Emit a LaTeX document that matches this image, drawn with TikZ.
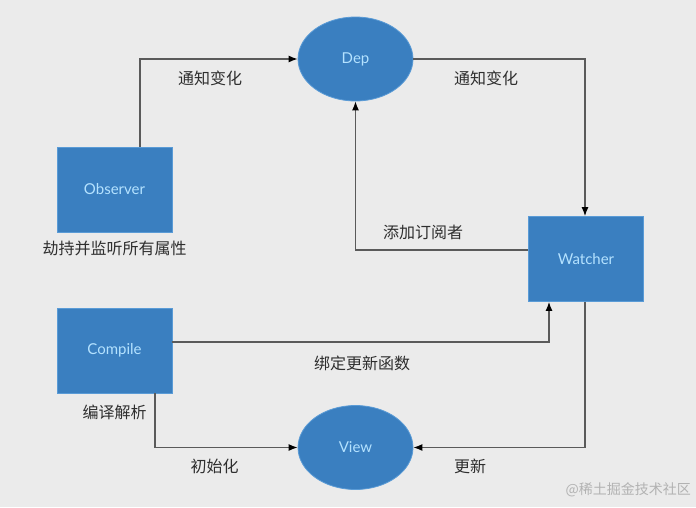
\documentclass[tikz,border=0pt]{standalone}
\usepackage{fontspec}
\setmainfont{Lato}
\newfontfamily\cjk{Noto Sans CJK SC}
\usetikzlibrary{arrows.meta}
\definecolor{bgc}{HTML}{EBEBEB}
\definecolor{boxfill}{HTML}{3A7FC0}
\definecolor{boxdraw}{HTML}{5A9BD6}
\definecolor{boxtext}{HTML}{B4E2FF}
\definecolor{linec}{HTML}{5A5A5A}
\definecolor{labc}{HTML}{2E2E2E}
\definecolor{wmc}{HTML}{B2B2B2}
\tikzset{
  blockbox/.style={rectangle, fill=boxfill, draw=boxdraw, line width=0.8pt, minimum width=115pt, minimum height=85pt, inner sep=0pt, text=boxtext, font=\fontsize{15}{18}\selectfont},
  blockell/.style={ellipse, fill=boxfill, draw=boxdraw, line width=0.8pt, minimum width=115pt, minimum height=84pt, inner sep=0pt, text=boxtext, font=\fontsize{15}{18}\selectfont},
  conn/.style={draw=linec, line width=1.2pt, -{Latex[length=9pt,width=7pt,color=black]}},
  lab/.style={text=labc, font=\cjk\fontsize{16}{19}\selectfont, inner sep=0pt},
}
\usetikzlibrary{shapes.geometric}
\begin{document}
\begin{tikzpicture}[x=1pt,y=-1pt]
\fill[bgc] (0,0) rectangle (696,507);
\useasboundingbox (0,0) rectangle (696,507);
\node[blockell] (dep) at (355.5,59) {Dep};
\node[blockbox] (obs) at (114.5,189.5) {Observer};
\node[blockbox] (wat) at (586,259) {Watcher};
\node[blockbox] (com) at (114.5,350.5) {Compile};
\node[blockell] (view) at (355.5,447.5) {View};
\coordinate (c1) at (140,59);
\coordinate (c2) at (585,59);
\coordinate (c3) at (355.5,250);
\coordinate (c4) at (549,342);
\coordinate (c5) at (155,447.5);
\coordinate (c6) at (585,447.5);
\draw[conn] (obs.north -| c1) -- (c1) -- (dep.west);
\draw[conn] (dep.east) -- (c2) -- (wat.north -| c2);
\draw[conn] (wat.west |- c3) -- (c3) -- (dep.south);
\draw[conn] (com.east |- c4) -- (c4) -- (wat.south -| c4);
\draw[conn] (com.south -| c5) -- (c5) -- (view.west);
\draw[conn] (wat.south -| c6) -- (c6) -- (view.east);
\node[lab] (l1) at (210,78) {通知变化};
\node[lab] (l2) at (486,78) {通知变化};
\node[lab] (l3) at (423,232) {添加订阅者};
\node[lab] (l4) at (114.5,248) {劫持并监听所有属性};
\node[lab] (l5) at (362,363) {绑定更新函数};
\node[lab] (l6) at (114.5,412) {编译解析};
\node[lab] (l7) at (214.5,466) {初始化};
\node[lab] (l8) at (470,466) {更新};
\node[text=wmc, font=\cjk\fontsize{14}{16}\selectfont, inner sep=0pt, anchor=east] (wm) at (691,490) {@稀土掘金技术社区};
\end{tikzpicture}
\end{document}
